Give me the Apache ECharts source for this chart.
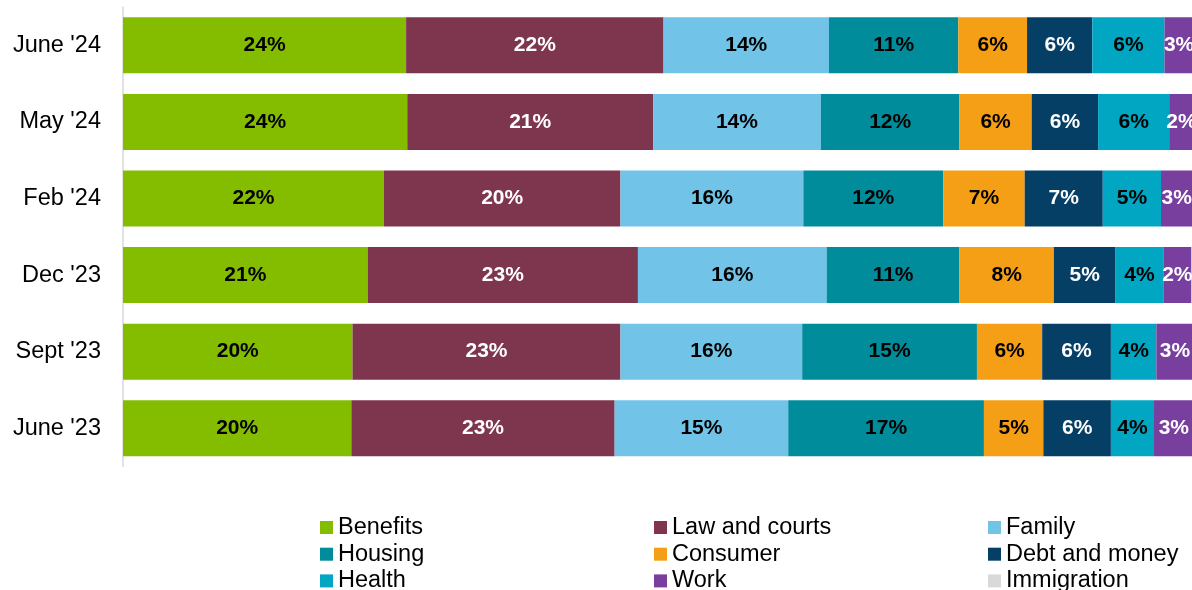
<!DOCTYPE html>
<html>
<head>
<meta charset="utf-8">
<script src="https://cdn.jsdelivr.net/npm/echarts@6/dist/echarts.min.js"></script>
<style>
html,body{margin:0;padding:0;background:#fff;}
#chart{width:1192px;height:590px;}
</style>
</head>
<body>
<div id="chart"></div>
<script>
const categories = ["June '24", "May '24", "Feb '24", "Dec '23", "Sept '23", "June '23"];
const benefits = [24.3, 24.4, 22.4, 21.0, 19.7, 19.6];
const lawAndCourts = [22.1, 21.1, 20.3, 23.2, 23.0, 22.6];
const family = [14.2, 14.4, 15.7, 16.2, 15.6, 14.9];
const housing = [11.1, 11.9, 12.0, 11.4, 15.0, 16.8];
const consumer = [5.9, 6.2, 7.0, 8.1, 5.6, 5.1];
const debtAndMoney = [5.6, 5.7, 6.7, 5.3, 5.9, 5.8];
const health = [6.2, 6.1, 5.0, 4.1, 3.9, 3.7];
const work = [2.5, 2.1, 2.7, 2.4, 3.2, 3.4];
const immigration = [null, null, null, null, null, null];

const seriesDefs = [
  {name: 'Benefits', data: benefits, color: '#84BD00', text: '#000'},
  {name: 'Law and courts', data: lawAndCourts, color: '#7E354E', text: '#fff'},
  {name: 'Family', data: family, color: '#71C4E8', text: '#000'},
  {name: 'Housing', data: housing, color: '#008C9A', text: '#000'},
  {name: 'Consumer', data: consumer, color: '#F59F17', text: '#000'},
  {name: 'Debt and money', data: debtAndMoney, color: '#053F66', text: '#fff'},
  {name: 'Health', data: health, color: '#00A6C2', text: '#000'},
  {name: 'Work', data: work, color: '#783F9F', text: '#fff'},
  {name: 'Immigration', data: immigration, color: '#D9D9D9', text: '#000'}
];

const FONT = '"Liberation Sans", Arial, sans-serif';
const legendCols = [320, 654, 988];
const legendRows = [515.5, 542.2, 568.9];

const chart = echarts.init(document.getElementById('chart'), null, {renderer: 'canvas'});

const legends = seriesDefs.map((s, i) => ({
  orient: 'horizontal',
  left: legendCols[i % 3],
  top: legendRows[Math.floor(i / 3)],
  padding: 0,
  itemWidth: 13,
  itemHeight: 13,
  icon: 'rect',
  selectedMode: false,
  data: [s.name],
  textStyle: {fontFamily: FONT, fontSize: 23.5, color: '#000', lineHeight: 22}
}));

chart.setOption({
  animation: false,
  backgroundColor: '#fff',
  grid: {left: 123, right: 0, top: 7, bottom: 123.5, containLabel: false, outerBoundsMode: 'none'},
  // visible part of the 0-100% scale (chart is cropped on the right)
  xAxis: {type: 'value', min: 0, max: 91.76, show: false, splitLine: {show: false}},
  yAxis: {
    type: 'category',
    data: categories,
    inverse: true,
    axisTick: {show: false},
    axisLine: {show: true, lineStyle: {color: '#d9d9d9', width: 1.5}},
    axisLabel: {margin: 22, fontFamily: FONT, fontSize: 23.5, color: '#000'}
  },
  legend: legends,
  series: seriesDefs.map(s => ({
    name: s.name,
    type: 'bar',
    stack: 'total',
    barWidth: 56,
    clip: false,
    data: s.data,
    itemStyle: {color: s.color},
    label: {
      show: true,
      position: 'inside',
      fontFamily: FONT,
      fontSize: 21,
      fontWeight: 'bold',
      color: s.text,
      formatter: p => (p.value == null ? '' : Math.round(p.value) + '%')
    }
  }))
});
</script>
</body>
</html>
